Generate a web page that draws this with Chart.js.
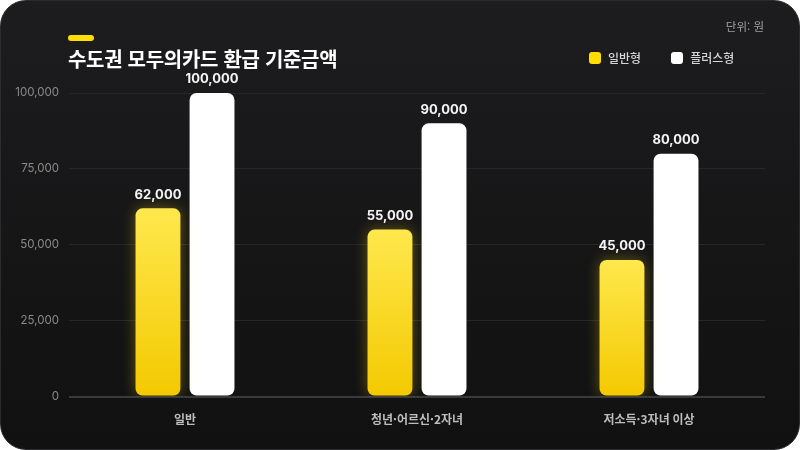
<!DOCTYPE html>
<html lang="ko">
<head>
<meta charset="utf-8">
<title>수도권 모두의카드 환급 기준금액</title>
<script src="https://cdn.jsdelivr.net/npm/chart.js@4"></script>
<style>
    html, body { margin: 0; padding: 0; background: #ffffff; }
    body { width: 800px; height: 450px; overflow: hidden; font-family: "Inter", "Noto Sans CJK KR", sans-serif; }
    .card {
        position: relative;
        width: 798px;
        height: 448px;
        border: 1px solid #2c2c2e;
        border-radius: 26px;
        background: linear-gradient(180deg, #1d1d1f 0%, #151516 60%, #111112 100%);
        overflow: hidden;
    }
    .card canvas { position: absolute; left: 0; top: 0; }
    .pill { position: absolute; left: 67px; top: 34px; width: 26px; height: 6px; border-radius: 3px; background: #ffde00; }
    .title { position: absolute; left: 67px; top: 43px; color: #ffffff; font: 700 20px "Noto Sans CJK KR", sans-serif; letter-spacing: -0.3px; }
    .unit { position: absolute; right: 35px; top: 17px; color: #a0a0a0; font: 400 11.5px "Noto Sans CJK KR", sans-serif; }
    .legend { position: absolute; left: 588px; top: 48px; display: flex; align-items: center; color: #d6d6d6; font: 500 12px "Noto Sans CJK KR", sans-serif; }
    .legend .sw { width: 12px; height: 12px; border-radius: 3px; margin-right: 7px; }
    .legend .item { display: flex; align-items: center; margin-right: 30px; }
</style>
</head>
<body>
<div class="card">
    <canvas id="refundChart" width="800" height="450"></canvas>
    <div class="pill"></div>
    <div class="title">수도권 모두의카드 환급 기준금액</div>
    <div class="unit">단위: 원</div>
    <div class="legend">
        <div class="item"><span class="sw" style="background:#ffde00"></span>일반형</div>
        <div class="item"><span class="sw" style="background:#ffffff"></span>플러스형</div>
    </div>
</div>
<script>
// Chart data
const categories = ['일반', '청년·어르신·2자녀', '저소득·3자녀 이상'];
const seriesNames = ['일반형', '플러스형'];
const basicValues = [62000, 55000, 45000];
const plusValues = [100000, 90000, 80000];
const yTicks = [0, 25000, 50000, 75000, 100000];

// Yellow gradient per bar, from the bar top to the axis
function yellowGradient(context) {
    const chart = context.chart;
    const area = chart.chartArea;
    if (!area) return '#f8d21a';
    const top = chart.scales.y.getPixelForValue(basicValues[context.dataIndex]);
    const g = chart.ctx.createLinearGradient(0, top, 0, area.bottom);
    g.addColorStop(0, '#ffe84d');
    g.addColorStop(1, '#f3c900');
    return g;
}

// Glow behind the yellow bars
const glowPlugin = {
    id: 'glow',
    beforeDatasetDraw(chart, args) {
        if (args.index !== 0) return;
        chart.ctx.save();
        chart.ctx.shadowColor = 'rgba(255, 214, 0, 0.35)';
        chart.ctx.shadowBlur = 14;
    },
    afterDatasetDraw(chart, args) {
        if (args.index !== 0) return;
        chart.ctx.restore();
    }
};

// Value labels above each bar
const valueLabels = {
    id: 'valueLabels',
    afterDatasetsDraw(chart) {
        const ctx = chart.ctx;
        ctx.save();
        ctx.font = '700 13px "Inter", "Noto Sans CJK KR", sans-serif';
        ctx.fillStyle = '#f4f4f4';
        ctx.textAlign = 'center';
        ctx.textBaseline = 'bottom';
        chart.data.datasets.forEach((ds, i) => {
            chart.getDatasetMeta(i).data.forEach((bar, j) => {
                ctx.fillText(ds.data[j].toLocaleString('en-US'), bar.x, bar.y - 7);
            });
        });
        ctx.restore();
    }
};

const ctx = document.getElementById('refundChart').getContext('2d');
const refundChart = new Chart(ctx, {
    type: 'bar',
    data: {
        labels: categories,
        datasets: [{
            label: seriesNames[0],
            data: basicValues,
            backgroundColor: yellowGradient,
            borderRadius: 7,
            borderSkipped: false,
            categoryPercentage: 0.466,
            barPercentage: 0.83
        }, {
            label: seriesNames[1],
            data: plusValues,
            backgroundColor: '#ffffff',
            borderRadius: 7,
            borderSkipped: false,
            categoryPercentage: 0.466,
            barPercentage: 0.83
        }]
    },
    options: {
        responsive: false,
        animation: false,
        layout: {
            padding: { top: 92, right: 36, bottom: 16, left: 0 }
        },
        scales: {
            x: {
                grid: { display: false },
                border: { display: false },
                ticks: {
                    color: '#bdbdbd',
                    padding: 8,
                    font: { family: '"Noto Sans CJK KR", sans-serif', size: 12, weight: '600' }
                }
            },
            y: {
                min: 0,
                max: 100000,
                afterFit(scale) { scale.width = 68; },
                afterBuildTicks(scale) { scale.ticks = yTicks.map(v => ({ value: v })); },
                grid: {
                    drawTicks: false,
                    color: (c) => c.tick && c.tick.value === 0 ? '#3a3a3c' : '#262628',
                    lineWidth: (c) => c.tick && c.tick.value === 0 ? 2 : 1
                },
                border: { display: false },
                ticks: {
                    color: '#8a8a8a',
                    padding: 10,
                    font: { family: '"Inter", sans-serif', size: 11.5 },
                    callback: (v) => v.toLocaleString('en-US')
                }
            }
        },
        plugins: {
            legend: { display: false },
            tooltip: { enabled: false }
        }
    },
    plugins: [glowPlugin, valueLabels]
});
</script>
</body>
</html>
